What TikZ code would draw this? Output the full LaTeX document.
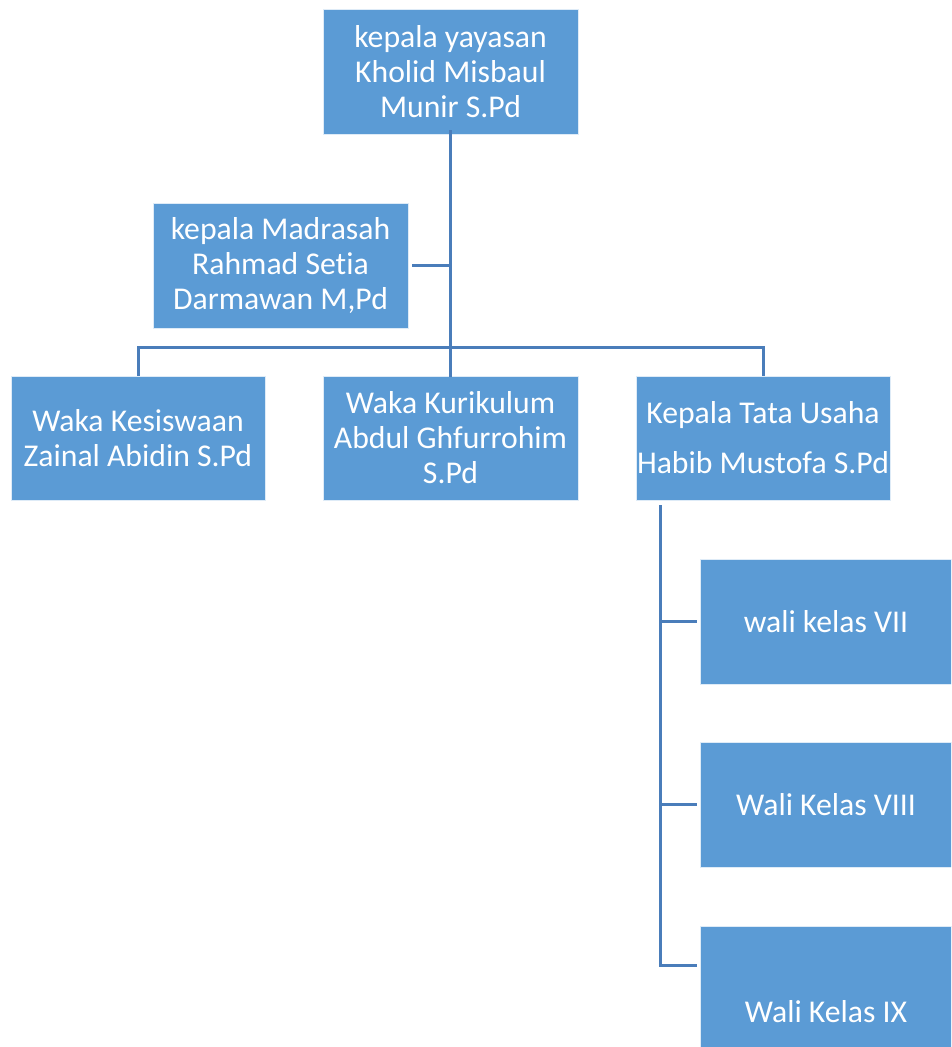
\documentclass[tikz,border=0pt]{standalone}
\usepackage{fontspec}
\setmainfont[Ligatures=NoCommon]{Carlito}
\definecolor{boxfill}{HTML}{5B9BD5}
\definecolor{linec}{HTML}{4A7DBA}
\begin{document}
\begin{tikzpicture}[x=1pt,y=-1pt,
  orgbox/.style={draw=white!80!boxfill,line width=0.8pt,fill=boxfill,text=white,inner sep=0pt,
    font=\fontsize{31.7}{35}\selectfont,align=center},
  conn/.style={draw=linec,line width=3pt}]
\clip (0,0) rectangle (951,1047);
% boxes
\node[orgbox,minimum width=255,minimum height=125] (top) at (450.5,71.5) {kepala yayasan\\Kholid Misbaul\\Munir S.Pd};
\node[orgbox,minimum width=255,minimum height=125] (mad) at (280.5,265.5) {kepala Madrasah\\Rahmad Setia\\Darmawan M,Pd};
\node[orgbox,minimum width=254,minimum height=124] (kes) at (138,438) {Waka Kesiswaan\\Zainal Abidin S.Pd};
\node[orgbox,minimum width=255,minimum height=124] (kur) at (450.5,438) {Waka Kurikulum\\Abdul Ghfurrohim\\S.Pd};
\node[orgbox,minimum width=254,minimum height=124] (tu) at (763,438) {Kepala Tata Usaha\\[15pt]Habib Mustofa S.Pd};
\node[orgbox,minimum width=252,minimum height=125] (w7) at (826,621.5) {wali kelas VII};
\node[orgbox,minimum width=252,minimum height=125] (w8) at (826,804.5) {Wali Kelas VIII};
\node[orgbox,minimum width=252,minimum height=172] (w9) at (826,1012) {Wali Kelas IX};
% connectors
\coordinate (bar) at (451,347);
\coordinate (tutrunk) at (660,505);
\coordinate (w9join) at (697,965);
\draw[conn] ([yshift=4pt]top.south) -- ([yshift=-1pt]kur.north);
\draw[conn] ([xshift=4pt]mad.east) -- (mad.east -| top.south);
\draw[conn] (kes.north) |- (bar) -| (tu.north);
\draw[conn] (tutrunk) |- (w9join);
\draw[conn] (tutrunk |- w7.west) -- ([xshift=-3pt]w7.west);
\draw[conn] (tutrunk |- w8.west) -- ([xshift=-3pt]w8.west);
\end{tikzpicture}
\end{document}
